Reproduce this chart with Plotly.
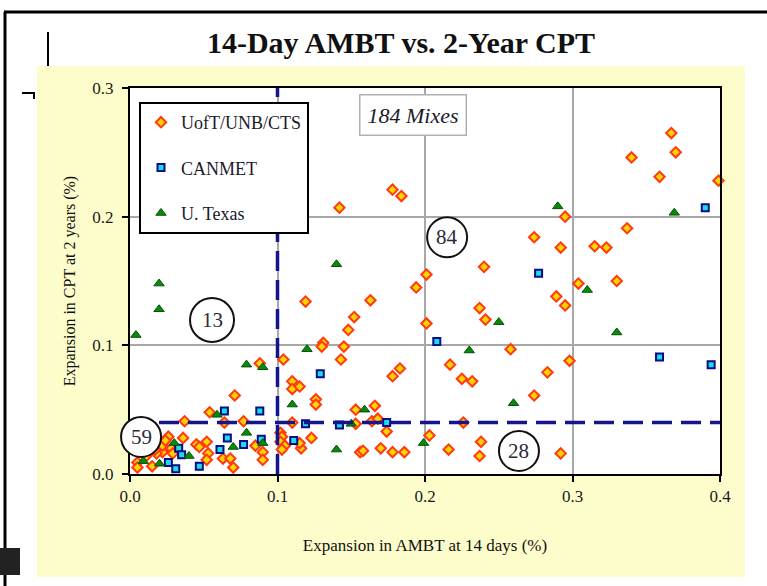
import plotly.graph_objects as go

# ---------------- data ----------------
uoft_x = [0.367, 0.370, 0.340, 0.359, 0.399, 0.178, 0.184, 0.142, 0.295, 0.337, 0.274, 0.292, 0.315, 0.323,
          0.240, 0.201, 0.194, 0.304, 0.330, 0.289, 0.295, 0.119, 0.163, 0.152, 0.148, 0.131, 0.130, 0.145,
          0.143, 0.201, 0.237, 0.241, 0.104, 0.110, 0.110, 0.115, 0.183, 0.178, 0.217, 0.225, 0.232, 0.258,
          0.298, 0.283, 0.274, 0.126, 0.126, 0.153, 0.166, 0.164, 0.168, 0.153, 0.110, 0.174, 0.123, 0.116,
          0.102, 0.103, 0.102, 0.105, 0.103, 0.115, 0.156, 0.158, 0.170, 0.178, 0.186, 0.203, 0.216, 0.226,
          0.238, 0.237, 0.292,
          0.088, 0.071, 0.054, 0.037, 0.064, 0.077, 0.036, 0.085, 0.045, 0.047, 0.052, 0.053, 0.063, 0.068,
          0.070, 0.090, 0.090, 0.052, 0.026, 0.028, 0.022, 0.018, 0.015, 0.005, 0.005, 0.029, 0.022, 0.024,
          0.017, 0.011]
uoft_y = [0.265, 0.250, 0.246, 0.231, 0.228, 0.221, 0.216, 0.207, 0.200, 0.191, 0.184, 0.176, 0.177, 0.176,
          0.161, 0.155, 0.145, 0.148, 0.150, 0.138, 0.131, 0.134, 0.135, 0.122, 0.112, 0.102, 0.099, 0.099,
          0.089, 0.117, 0.129, 0.120, 0.089, 0.072, 0.066, 0.068, 0.082, 0.076, 0.085, 0.074, 0.072, 0.097,
          0.088, 0.079, 0.061, 0.058, 0.054, 0.050, 0.053, 0.041, 0.043, 0.039, 0.040, 0.033, 0.028, 0.020,
          0.032, 0.029, 0.025, 0.022, 0.019, 0.024, 0.017, 0.018, 0.020, 0.017, 0.017, 0.030, 0.019, 0.040,
          0.025, 0.014, 0.016,
          0.086, 0.061, 0.048, 0.041, 0.040, 0.041, 0.028, 0.022, 0.023, 0.021, 0.025, 0.016, 0.012, 0.012,
          0.005, 0.017, 0.011, 0.011, 0.029, 0.020, 0.017, 0.016, 0.006, 0.009, 0.005, 0.016, 0.022, 0.026,
          0.019, 0.014]

canmet_x = [0.390, 0.277, 0.208, 0.129, 0.359, 0.394, 0.142, 0.174, 0.119, 0.111, 0.064, 0.088, 0.066,
            0.077, 0.089, 0.061, 0.047, 0.031, 0.033, 0.035, 0.026]
canmet_y = [0.207, 0.156, 0.103, 0.078, 0.091, 0.085, 0.038, 0.040, 0.039, 0.026, 0.049, 0.049, 0.028,
            0.023, 0.027, 0.019, 0.006, 0.004, 0.020, 0.015, 0.009]

texas_x = [0.290, 0.369, 0.140, 0.310, 0.330, 0.250, 0.230, 0.120, 0.260, 0.159, 0.150, 0.140, 0.199,
           0.110, 0.0197, 0.0197, 0.004, 0.079, 0.090, 0.059, 0.079, 0.090, 0.070, 0.030, 0.040, 0.020,
           0.009]
texas_y = [0.208, 0.203, 0.163, 0.143, 0.110, 0.118, 0.096, 0.097, 0.055, 0.050, 0.039, 0.019, 0.024,
           0.054, 0.148, 0.128, 0.108, 0.085, 0.083, 0.046, 0.032, 0.024, 0.021, 0.024, 0.014, 0.008,
           0.010]

series_names = ["UofT/UNB/CTS", "CANMET", "U. Texas"]
x_limit = 0.1      # AMBT limit
y_limit = 0.04     # CPT limit
x_range = [0, 0.4]
y_range = [0, 0.3]
tick_vals = [0.0, 0.1, 0.2, 0.3, 0.4]
y_tick_vals = [0.0, 0.1, 0.2, 0.3]

quad_labels = ["13", "84", "59", "28"]
quad_x = [0.0556, 0.215, 0.0075, 0.2637]
quad_y = [0.1197, 0.184, 0.0288, 0.0179]

title_text = "14-Day AMBT vs. 2-Year CPT"
x_title = "Expansion in AMBT at 14 days (%)"
y_title = "Expansion in CPT at 2 years (%)"
note_text = "184 Mixes"

SERIF = "Liberation Serif, Times New Roman, serif"

# --------------- layout helpers (pixel -> paper) ---------------
L, R, T, B = 130, 47, 88, 112
W, H = 767, 586
PW, PH = W - L - R, H - T - B


def px(xp):
    return (xp - L) / PW


def py(yp):
    return (H - B - yp) / PH


fig = go.Figure()

fig.add_trace(go.Scatter(
    x=uoft_x, y=uoft_y, mode="markers", name=series_names[0], legendgroup="a",
    marker=dict(symbol="diamond", size=8, color="#ffd400",
                line=dict(color="#ff3a12", width=2)),
    cliponaxis=False))
fig.add_trace(go.Scatter(
    x=canmet_x, y=canmet_y, mode="markers", name=series_names[1], legendgroup="b",
    marker=dict(symbol="square", size=7, color="#19e0e0",
                line=dict(color="#0a0a8a", width=2)),
    cliponaxis=False))
fig.add_trace(go.Scatter(
    x=texas_x, y=texas_y, mode="markers", name=series_names[2], legendgroup="c",
    marker=dict(symbol="triangle-up", size=9, color="#0a8a0a",
                line=dict(color="#035003", width=1)),
    cliponaxis=False))

shapes = []
# yellow slide panel and white plot area
shapes.append(dict(type="rect", xref="paper", yref="paper", x0=px(37), x1=px(745), y0=py(577), y1=py(66),
                   fillcolor="#fdfdcc", line=dict(width=0), layer="below"))
shapes.append(dict(type="rect", xref="paper", yref="paper", x0=0, x1=1, y0=0, y1=1,
                   fillcolor="white", line=dict(width=0), layer="below"))
# slide frame decorations
shapes.append(dict(type="line", xref="paper", yref="paper", x0=px(5), x1=px(5), y0=py(586), y1=py(12),
                   line=dict(color="black", width=3)))
shapes.append(dict(type="line", xref="paper", yref="paper", x0=px(4), x1=px(767), y0=py(12), y1=py(12),
                   line=dict(color="black", width=3)))
shapes.append(dict(type="line", xref="paper", yref="paper", x0=px(48), x1=px(48), y0=py(66), y1=py(32),
                   line=dict(color="black", width=2)))
shapes.append(dict(type="path", xref="paper", yref="paper",
                   path=f"M {px(22)} {py(93)} L {px(34)} {py(93)} L {px(34)} {py(99)}",
                   line=dict(color="black", width=2)))
shapes.append(dict(type="rect", xref="paper", yref="paper", x0=px(0), x1=px(20), y0=py(575), y1=py(548),
                   fillcolor="#222222", line=dict(width=0)))
# limit lines
shapes.append(dict(type="line", xref="x", yref="y", x0=x_limit, x1=x_limit, y0=y_range[0], y1=y_range[1],
                   line=dict(color="#14148c", width=3.5, dash="20px,9px")))
shapes.append(dict(type="line", xref="x", yref="y", x0=x_range[0], x1=x_range[1], y0=y_limit, y1=y_limit,
                   line=dict(color="#14148c", width=3.5, dash="20px,9px")))

annotations = []
for lab, qx, qy in zip(quad_labels, quad_x, quad_y):
    xa = (qx - x_range[0]) / (x_range[1] - x_range[0])
    ya = (qy - y_range[0]) / (y_range[1] - y_range[0])
    r = 22 if lab == "13" else 20
    shapes.append(dict(type="circle", xref="paper", yref="paper", xsizemode="pixel", ysizemode="pixel",
                       xanchor=xa, yanchor=ya, x0=-r, x1=r, y0=-r, y1=r,
                       line=dict(color="#111111", width=2), fillcolor="white"))
    annotations.append(dict(x=xa, y=ya, xref="paper", yref="paper", text=lab, showarrow=False,
                            xanchor="center", yanchor="middle",
                            font=dict(family=SERIF, size=21, color="#2a2a3a")))

annotations.append(dict(x=px(413), y=py(115), xref="paper", yref="paper", text=f"<i>{note_text}</i>",
                        showarrow=False, xanchor="center", yanchor="middle",
                        font=dict(family=SERIF, size=22, color="#1a1a2a"),
                        bgcolor="white", bordercolor="#b0b0b0", borderwidth=1.5, borderpad=7))

axis_common = dict(showline=True, linecolor="black", linewidth=2, mirror=True,
                   ticks="outside", ticklen=6, tickcolor="black", tickwidth=1.5,
                   showgrid=True, gridcolor="#a8a8a8", gridwidth=1.5, zeroline=False,
                   tickfont=dict(family=SERIF, size=17, color="#1a1a1a"), tickformat=".1f")

fig.update_layout(
    width=W, height=H,
    margin=dict(l=L, r=R, t=T, b=B),
    paper_bgcolor="white", plot_bgcolor="white",
    title=dict(text=f"<b>{title_text}</b>", x=401 / W, xanchor="center", y=1 - 42 / H, yanchor="middle",
               font=dict(family=SERIF, size=30, color="#111111")),
    xaxis=dict(range=x_range, tickvals=tick_vals,
               title=dict(text=x_title, font=dict(family=SERIF, size=17, color="#111111"), standoff=34),
               **axis_common),
    yaxis=dict(range=y_range, tickvals=y_tick_vals, ticklabelstandoff=5,
               title=dict(text=y_title, font=dict(family=SERIF, size=16, color="#111111"), standoff=13),
               **axis_common),
    legend=dict(x=px(139), y=py(102), xanchor="left", yanchor="top",
                bgcolor="white", bordercolor="black", borderwidth=2,
                font=dict(family=SERIF, size=18, color="#1a1a2a"),
                tracegroupgap=19, traceorder="grouped", itemwidth=30),
    shapes=shapes,
    annotations=annotations,
    showlegend=True,
)

fig.write_html("out.html", config={"displayModeBar": False},
               post_script="document.body.style.margin='0';document.body.style.overflow='hidden';")
